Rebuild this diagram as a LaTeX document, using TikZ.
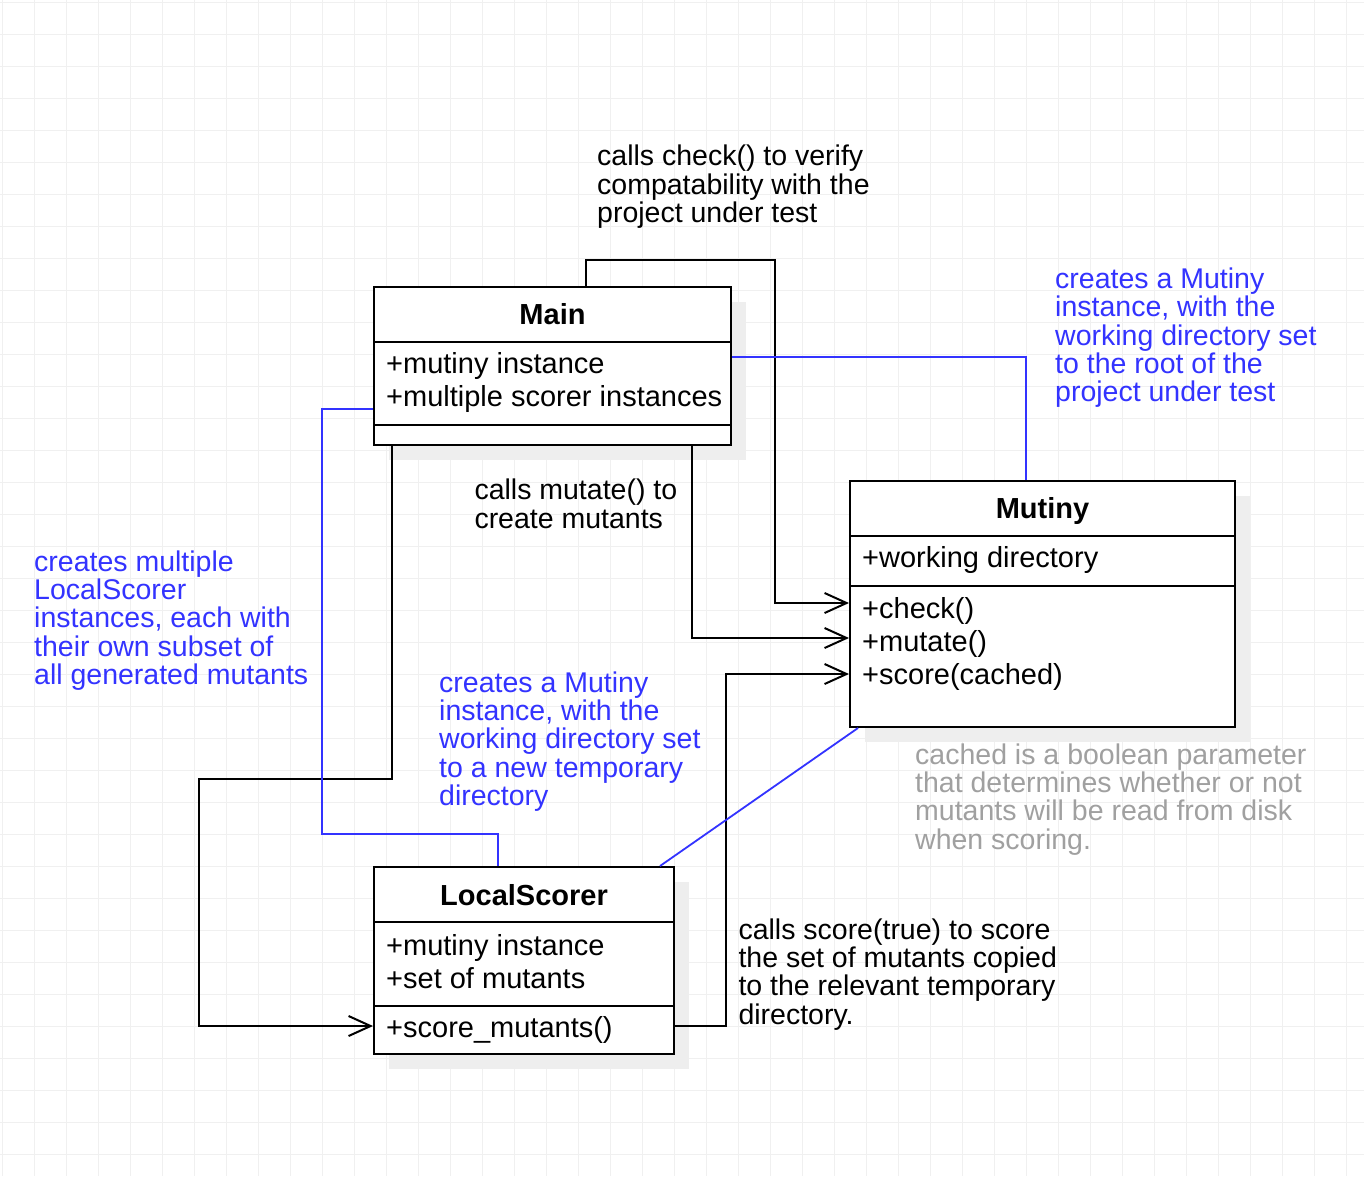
\documentclass[tikz,border=0pt]{standalone}
\usepackage{fontspec}
\setmainfont{Liberation Sans}
\usetikzlibrary{arrows.meta,shadows,calc}
\definecolor{cblue}{RGB}{51,51,255}
\definecolor{cgray}{RGB}{160,160,160}
\definecolor{cgrid}{RGB}{240,240,240}
\definecolor{cshadow}{RGB}{238,238,238}
\newcommand{\lblfont}{\fontsize{28.5}{28.3}\selectfont}
\newcommand{\boxfont}{\fontsize{29}{33}\selectfont}
\tikzset{
  umlbox/.style={draw=black, fill=white, line width=2pt, rectangle, inner sep=0pt,
    drop shadow={shadow xshift=15pt, shadow yshift=-15pt, fill=cshadow, opacity=1}},
  divider/.style={draw=black, line width=2pt},
  boxtitle/.style={anchor=base, inner sep=0pt, font=\boxfont\bfseries},
  boxtext/.style={anchor=base west, inner sep=0pt, align=left, font=\boxfont},
  lbl/.style={anchor=base west, inner sep=0pt, align=left, font=\lblfont},
  conn/.style={draw=black, line width=2pt, -{Straight Barb[length=22pt,width=20pt]}},
  bluelink/.style={draw=cblue, line width=1.8pt},
  gridline/.style={draw=cgrid, line width=1pt}
}
\begin{document}
\begin{tikzpicture}[x=1pt,y=-1pt]
\useasboundingbox (0,0) rectangle (1364,1176);
\fill[white] (0,0) rectangle (1364,1176);
\foreach \i in {0,...,42} {\draw[gridline] (2.5+32*\i,0) -- (2.5+32*\i,1176);}
\foreach \j in {0,...,36} {\draw[gridline] (0,2.5+32*\j) -- (1364,2.5+32*\j);}

% Main
\node[umlbox, minimum width=357pt, minimum height=158pt] (main) at (552.5,366) {};
\draw[divider] (374,342) -- (731,342);
\draw[divider] (374,425) -- (731,425);
\node[boxtitle] (mainname) at (552.5,324) {Main};
\node[boxtext] (mainattr) at (386,406.7) {+mutiny instance\\+multiple scorer instances};

% Mutiny
\node[umlbox, minimum width=385pt, minimum height=246pt] (mutiny) at (1042.5,604) {};
\draw[divider] (850,535.5) -- (1235,535.5);
\draw[divider] (850,586) -- (1235,586);
\node[boxtitle] (mutinyname) at (1042.5,518.3) {Mutiny};
\node[boxtext] (mutinyattr) at (862,567.7) {+working directory};
\node[boxtext] (mutinyops) at (862,684.3) {+check()\\+mutate()\\+score(cached)};

% LocalScorer
\node[umlbox, minimum width=300pt, minimum height=187pt] (lsc) at (524,960.5) {};
\draw[divider] (374,922) -- (674,922);
\draw[divider] (374,1006) -- (674,1006);
\node[boxtitle] (lscname) at (524,905) {LocalScorer};
\node[boxtext] (lscattr) at (386,988.3) {+mutiny instance\\+set of mutants};
\node[boxtext] (lscops) at (386,1037.7) {+score\_mutants()};

% connectors
\draw[conn] (main.north -| 586,0) |- (775,260) |- (mutiny.west |- 0,603);
\draw[conn] (main.south -| 692,0) |- (mutiny.west |- 0,638);
\draw[conn] (lsc.east |- 0,1026) -| (726,674) -- (mutiny.west |- 0,674);
\draw[conn] (main.south -| 392,0) |- (199,779) |- (lsc.west |- 0,1026);
\draw[bluelink] (main.east |- 0,357) -| (mutiny.north -| 1026,0);
\draw[bluelink] (main.west |- 0,409) -| (322,834) -| (lsc.north -| 498,0);
\draw[bluelink] (lsc.north -| 660,0) -- (mutiny.south -| 858,0);

% labels (anchored at the baseline of the last line)
\node[lbl] (lcheck) at (597,222.3) {calls check() to verify\\compatability with the\\project under test};
\node[lbl] (lmutate) at (474.3,528) {calls mutate() to\\create mutants};
\node[lbl] (lscore) at (738.3,1024.2) {calls score(true) to score\\the set of mutants copied\\to the relevant temporary\\directory.};
\node[lbl, text=cblue] (lroot) at (1055,401.6) {creates a Mutiny\\instance, with the\\working directory set\\to the root of the\\project under test};
\node[lbl, text=cblue] (lmulti) at (34,684.5) {creates multiple\\LocalScorer\\instances, each with\\their own subset of\\all generated mutants};
\node[lbl, text=cblue] (ltemp) at (439,805.5) {creates a Mutiny\\instance, with the\\working directory set\\to a new temporary\\directory};
\node[lbl, text=cgray] (lcached) at (915,849.2) {cached is a boolean parameter\\that determines whether or not\\mutants will be read from disk\\when scoring.};
\end{tikzpicture}
\end{document}
